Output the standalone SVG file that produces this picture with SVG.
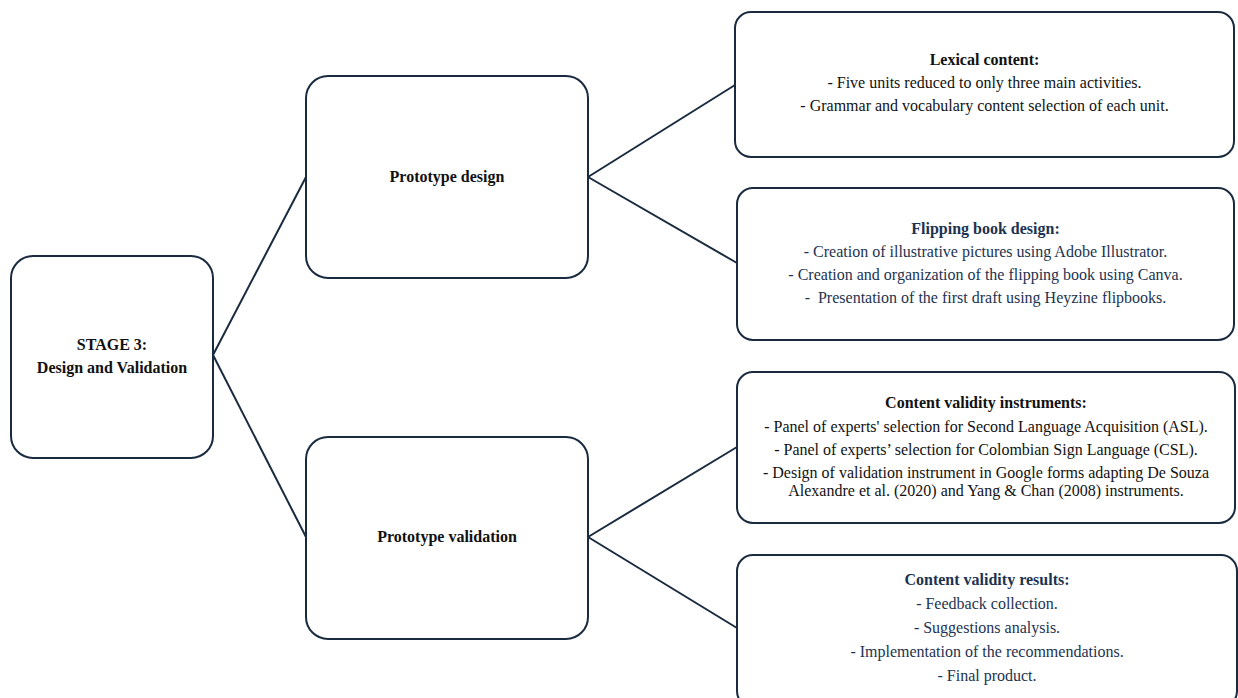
<svg xmlns="http://www.w3.org/2000/svg" width="1238" height="698" viewBox="0 0 1238 698">
<style>
.box{fill:#fff;stroke:#1a2b3f;stroke-width:2}
.conn{stroke:#1a2b3f;stroke-width:2;fill:none}
text{font-family:'Liberation Serif','Times New Roman','DejaVu Serif',serif;font-size:16px;text-anchor:middle}
.b{font-weight:bold}
.k{fill:#111}
.n{fill:#1c3350}
</style>
<rect width="1238" height="698" fill="#fff"/>
<g id="connectors">
<line class="conn" x1="213" y1="355" x2="306" y2="177"/>
<line class="conn" x1="213" y1="355" x2="306" y2="537"/>
<line class="conn" x1="588" y1="177" x2="735" y2="85"/>
<line class="conn" x1="588" y1="177" x2="737" y2="263"/>
<line class="conn" x1="588" y1="537" x2="737" y2="447"/>
<line class="conn" x1="588" y1="537" x2="737" y2="628"/>
</g>
<g id="stage">
<rect class="box" x="11" y="256" width="202" height="202" rx="22"/>
<text class="b k" x="112" y="350">STAGE 3:</text>
<text class="b k" x="112" y="373">Design and Validation</text>
</g>
<g id="proto-design">
<rect class="box" x="306" y="76" width="282" height="202" rx="22"/>
<text class="b k" x="447" y="182">Prototype design</text>
</g>
<g id="proto-validation">
<rect class="box" x="306" y="437" width="282" height="202" rx="22"/>
<text class="b k" x="447" y="542">Prototype validation</text>
</g>
<g id="lexical">
<rect class="box" x="735" y="12" width="499" height="145" rx="16"/>
<text class="b k" x="984.5" y="65">Lexical content:</text>
<text class="k" x="984.5" y="88">- Five units reduced to only three main activities.</text>
<text class="k" x="984.5" y="111">- Grammar and vocabulary content selection of each unit.</text>
</g>
<g id="flipping">
<rect class="box" x="737" y="188" width="497" height="152" rx="16"/>
<text class="b n" x="985.5" y="234">Flipping book design:</text>
<text class="n" x="985.5" y="257">- Creation of illustrative pictures using Adobe Illustrator.</text>
<text class="n" x="985.5" y="280">- Creation and organization of the flipping book using Canva.</text>
<text class="n" x="985.5" y="303" xml:space="preserve">-  Presentation of the first draft using Heyzine flipbooks.</text>
</g>
<g id="instruments">
<rect class="box" x="737" y="372" width="498" height="151" rx="16"/>
<text class="b k" x="986" y="408">Content validity instruments:</text>
<text class="k" x="986" y="432">- Panel of experts' selection for Second Language Acquisition (ASL).</text>
<text class="k" x="986" y="455">- Panel of experts’ selection for Colombian Sign Language (CSL).</text>
<text class="k" x="986" y="478">- Design of validation instrument in Google forms adapting De Souza</text>
<text class="k" x="986" y="496">Alexandre et al. (2020) and Yang &amp; Chan (2008) instruments.</text>
</g>
<g id="results">
<rect class="box" x="737" y="555" width="500" height="152" rx="16"/>
<text class="b n" x="987" y="585">Content validity results:</text>
<text class="n" x="987" y="609">- Feedback collection.</text>
<text class="n" x="987" y="633">- Suggestions analysis.</text>
<text class="n" x="987" y="657">- Implementation of the recommendations.</text>
<text class="n" x="987" y="681">- Final product.</text>
</g>
</svg>
